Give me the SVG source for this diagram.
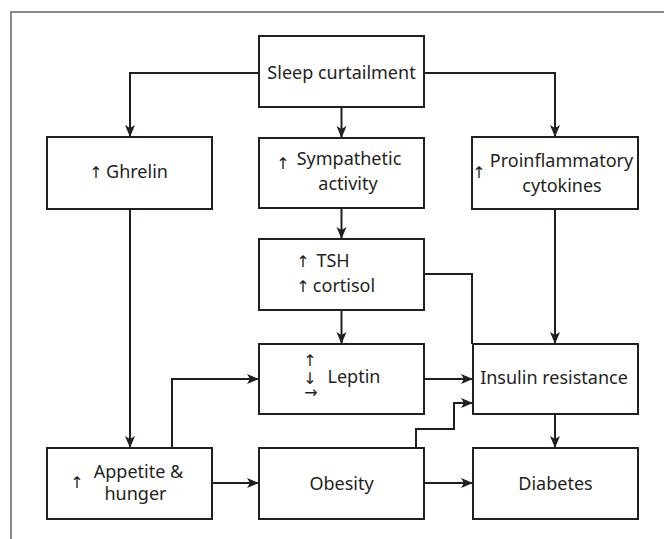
<svg xmlns="http://www.w3.org/2000/svg" width="664" height="539" viewBox="0 0 664 539">
<style>
.box{fill:#fff;stroke:#231f20;stroke-width:2}
.t{font-family:"Noto Sans","Open Sans",sans-serif;font-size:18px;fill:#231f20;text-anchor:middle}
.a{font-family:"DejaVu Sans","Liberation Sans",sans-serif;font-size:16px;fill:#231f20;text-anchor:middle}
.c{fill:none;stroke:#231f20;stroke-width:2}
</style>
<defs>
<marker id="ah" markerUnits="userSpaceOnUse" markerWidth="14" markerHeight="12" refX="12" refY="5" orient="auto">
<path d="M0,0 L12,5 L0,10 L3,5 z" fill="#231f20"/>
</marker>
</defs>
<rect x="0" y="0" width="664" height="539" fill="#fff"/>
<rect x="11" y="12" width="700" height="600" fill="none" stroke="#666" stroke-width="1.5"/>
<g id="connectors">
<path class="c" d="M259,73 H130 V137" marker-end="url(#ah)"/>
<path class="c" d="M341.5,107 V138" marker-end="url(#ah)"/>
<path class="c" d="M424,73 H555 V137" marker-end="url(#ah)"/>
<path class="c" d="M341.5,208 V239" marker-end="url(#ah)"/>
<path class="c" d="M341.5,310 V344" marker-end="url(#ah)"/>
<path class="c" d="M424,274 H472 V344"/>
<path class="c" d="M555,208 V344" marker-end="url(#ah)"/>
<path class="c" d="M130,209 V448" marker-end="url(#ah)"/>
<path class="c" d="M172,448 V379 H259" marker-end="url(#ah)"/>
<path class="c" d="M424,379 H473" marker-end="url(#ah)"/>
<path class="c" d="M416,448 V429 H454 V403 H473" marker-end="url(#ah)"/>
<path class="c" d="M555,414 V448" marker-end="url(#ah)"/>
<path class="c" d="M212,483 H259" marker-end="url(#ah)"/>
<path class="c" d="M424,483 H473" marker-end="url(#ah)"/>
</g>
<g id="sleep">
<rect class="box" x="259" y="36" width="165" height="71"/>
<text class="t" x="341.5" y="79">Sleep curtailment</text>
</g>
<g id="ghrelin">
<rect class="box" x="47" y="137" width="165" height="72"/>
<text class="a" x="96" y="178">↑</text>
<text class="t" x="137" y="178">Ghrelin</text>
</g>
<g id="sympathetic">
<rect class="box" x="259" y="138" width="165" height="70"/>
<text class="a" x="283" y="169">↑</text>
<text class="t" x="349" y="165">Sympathetic</text>
<text class="t" x="348" y="190">activity</text>
</g>
<g id="proinflammatory">
<rect class="box" x="472" y="137" width="166" height="72"/>
<text class="a" x="479" y="178">↑</text>
<text class="t" x="561.5" y="167">Proinflammatory</text>
<text class="t" x="562" y="192">cytokines</text>
</g>
<g id="tsh">
<rect class="box" x="259" y="239" width="165" height="71"/>
<text class="a" x="303" y="267">↑</text>
<text class="t" x="333" y="267">TSH</text>
<text class="a" x="303" y="292">↑</text>
<text class="t" x="344" y="292">cortisol</text>
</g>
<g id="leptin">
<rect class="box" x="259" y="344" width="165" height="70"/>
<text class="a" x="310" y="366">↑</text>
<text class="a" x="310" y="384">↓</text>
<text class="a" x="311" y="398">→</text>
<text class="t" x="354" y="383">Leptin</text>
</g>
<g id="insulin">
<rect class="box" x="473" y="344" width="165" height="70"/>
<text class="t" x="554" y="384">Insulin resistance</text>
</g>
<g id="appetite">
<rect class="box" x="47" y="448" width="165" height="71"/>
<text class="a" x="77" y="488">↑</text>
<text class="t" x="138.5" y="478">Appetite &amp;</text>
<text class="t" x="135.5" y="500">hunger</text>
</g>
<g id="obesity">
<rect class="box" x="259" y="448" width="165" height="71"/>
<text class="t" x="341.5" y="490">Obesity</text>
</g>
<g id="diabetes">
<rect class="box" x="473" y="448" width="165" height="71"/>
<text class="t" x="555.5" y="490">Diabetes</text>
</g>
</svg>
